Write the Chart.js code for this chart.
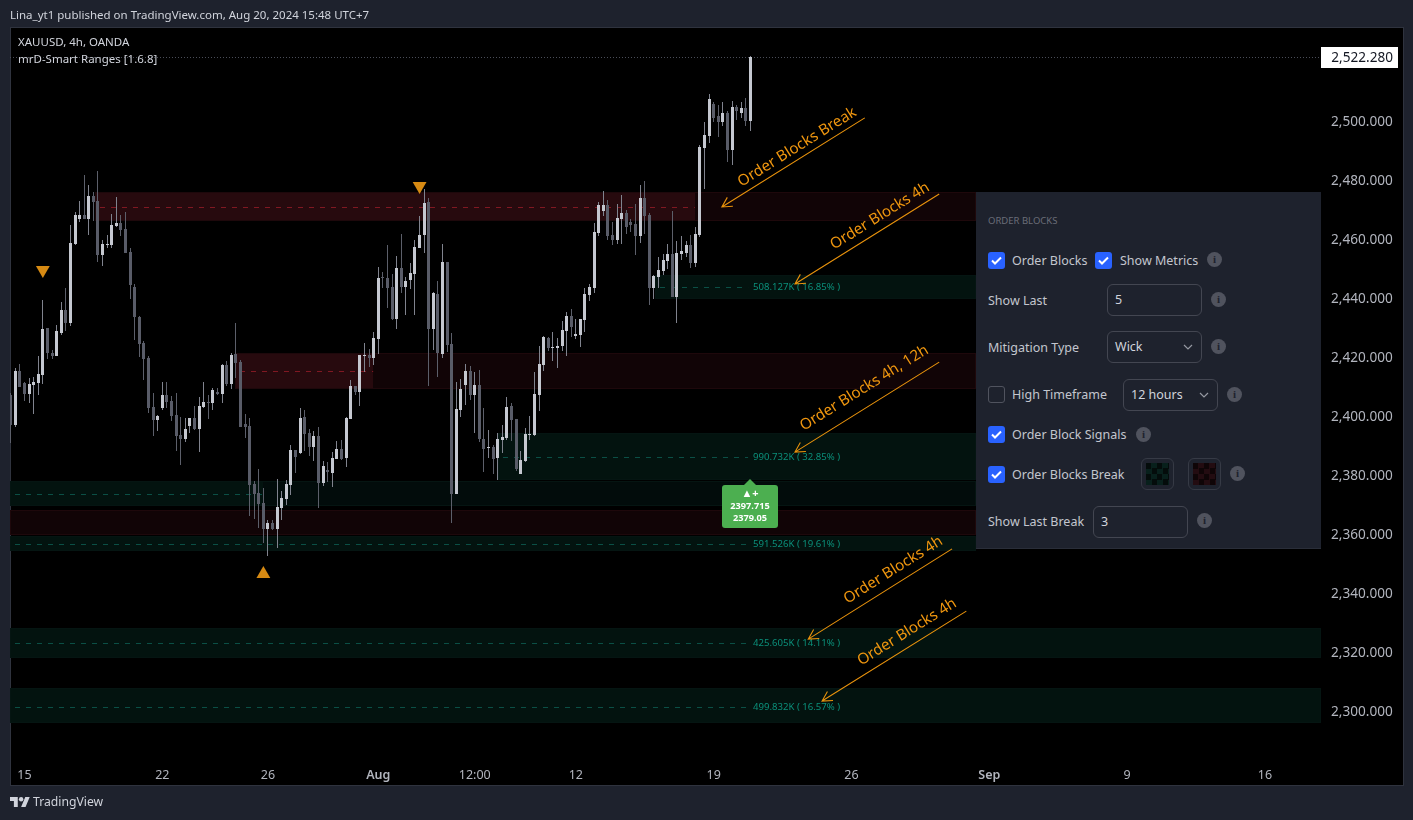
<!DOCTYPE html>
<html>
<head>
<meta charset="utf-8">
<title>XAUUSD, 4h, OANDA</title>
<script src="https://cdn.jsdelivr.net/npm/chart.js@4"></script>
<style>
    html, body { margin: 0; padding: 0; background: #1e222d; overflow: hidden; }
    body { width: 1413px; height: 820px; position: relative; font-family: "Noto Sans", sans-serif; color: #d1d4dc; }
    .abs { position: absolute; white-space: nowrap; }
    #plotBg { position: absolute; left: 10px; top: 27px; width: 1392px; height: 757px; background: #000; border: 1px solid #2f333e; }
    #chart { position: absolute; left: 0; top: 0; }
    #panel { position: absolute; left: 976px; top: 192px; width: 345px; height: 357px; background: #1e222d; border-bottom: 1px solid #2a2e39; box-sizing: border-box; }
    .txt { position: absolute; font-size: 12.5px; line-height: 16px; color: #c3c6ce; white-space: nowrap; }
    .cb { position: absolute; width: 17px; height: 17px; border-radius: 3px; background: #2962ff; box-sizing: border-box; }
    .cb svg { position: absolute; left: 3px; top: 4px; }
    .cb.off { background: none; border: 1px solid #50535e; }
    .field { position: absolute; height: 32px; border: 1px solid #434651; border-radius: 6px; box-sizing: border-box; font-size: 12.5px; line-height: 30px; color: #d1d4dc; padding-left: 7px; }
    .field svg { position: absolute; top: 12px; }
    .info { position: absolute; width: 15px; height: 15px; border-radius: 50%; background: #50535e; color: #1e222d; font-size: 11px; font-weight: 700; line-height: 15px; text-align: center; font-family: "Liberation Serif", serif; }
    .swatch { position: absolute; width: 33px; height: 32px; border: 1px solid #363a45; border-radius: 6px; box-sizing: border-box; }
    .swatch i { position: absolute; left: 4px; top: 4px; width: 23px; height: 22px; background-size: 11px 11px; }
</style>
</head>
<body>
<div id="plotBg"></div>
<canvas id="chart" width="1413" height="820"></canvas>

<div class="abs" style="left:10px;top:7px;font-size:11.5px;line-height:16px;">Lina_yt1 published on TradingView.com, Aug 20, 2024 15:48 UTC+7</div>
<div class="abs" style="left:18px;top:34px;font-size:11.5px;line-height:16px;">XAUUSD, 4h, OANDA</div>
<div class="abs" style="left:18px;top:51px;font-size:11.5px;line-height:16px;">mrD-Smart Ranges [1.6.8]</div>

<svg class="abs" style="left:10px;top:797px;" width="20" height="10" viewBox="0 4 36 18"><path fill="#d1d4dc" d="M14 22H7V11H0V4h14v18zM28 22h-8l7.5-18h8L28 22z"/><circle fill="#d1d4dc" cx="20" cy="8" r="4"/></svg>
<div class="abs" style="left:33px;top:794px;font-size:12.2px;line-height:16px;">TradingView</div>

<div id="panel">
    <div class="txt" style="left:12px;top:21px;font-size:9.5px;color:#6a6d78;">ORDER BLOCKS</div>

    <div class="cb" style="left:12px;top:60px;"><svg width="11" height="9" viewBox="0 0 11 9"><path d="M1 4.5 4 7.5 10 1.5" fill="none" stroke="#fff" stroke-width="2"/></svg></div>
    <div class="txt" style="left:36px;top:61px;">Order Blocks</div>
    <div class="cb" style="left:119px;top:60px;"><svg width="11" height="9" viewBox="0 0 11 9"><path d="M1 4.5 4 7.5 10 1.5" fill="none" stroke="#fff" stroke-width="2"/></svg></div>
    <div class="txt" style="left:144px;top:61px;">Show Metrics</div>
    <div class="info" style="left:231px;top:60px;">i</div>

    <div class="txt" style="left:12px;top:101px;">Show Last</div>
    <div class="field" style="left:131px;top:92px;width:95px;">5</div>
    <div class="info" style="left:235px;top:100px;">i</div>

    <div class="txt" style="left:12px;top:148px;">Mitigation Type</div>
    <div class="field" style="left:131px;top:139px;width:95px;">Wick<svg style="left:75px;" width="10" height="6" viewBox="0 0 10 6"><path d="M1 1 5 5 9 1" fill="none" stroke="#9598a1" stroke-width="1.2"/></svg></div>
    <div class="info" style="left:235px;top:147px;">i</div>

    <div class="cb off" style="left:12px;top:194px;"></div>
    <div class="txt" style="left:36px;top:195px;">High Timeframe</div>
    <div class="field" style="left:147px;top:187px;width:95px;">12 hours<svg style="left:75px;" width="10" height="6" viewBox="0 0 10 6"><path d="M1 1 5 5 9 1" fill="none" stroke="#9598a1" stroke-width="1.2"/></svg></div>
    <div class="info" style="left:251px;top:195px;">i</div>

    <div class="cb" style="left:12px;top:234px;"><svg width="11" height="9" viewBox="0 0 11 9"><path d="M1 4.5 4 7.5 10 1.5" fill="none" stroke="#fff" stroke-width="2"/></svg></div>
    <div class="txt" style="left:36px;top:235px;">Order Block Signals</div>
    <div class="info" style="left:160px;top:235px;">i</div>

    <div class="cb" style="left:12px;top:274px;"><svg width="11" height="9" viewBox="0 0 11 9"><path d="M1 4.5 4 7.5 10 1.5" fill="none" stroke="#fff" stroke-width="2"/></svg></div>
    <div class="txt" style="left:36px;top:275px;">Order Blocks Break</div>
    <div class="swatch" style="left:165px;top:266px;"><i style="background-image:repeating-conic-gradient(#08201c 0 25%,#040c0b 0 50%);"></i></div>
    <div class="swatch" style="left:212px;top:266px;"><i style="background-image:repeating-conic-gradient(#230c11 0 25%,#0f0507 0 50%);"></i></div>
    <div class="info" style="left:254px;top:274px;">i</div>

    <div class="txt" style="left:12px;top:322px;">Show Last Break</div>
    <div class="field" style="left:117px;top:314px;width:95px;">3</div>
    <div class="info" style="left:221px;top:321px;">i</div>
</div>

<script>
// 1. Candle values (one entry per 4h bar)
const opens = [
    2407.5,2397.3,2415.6,2411.5,2407.8,2410.8,2411.5,2414.2,2430.2,2421.7,
    2420.7,2428.5,2436.3,2431.9,2458.6,2467.1,2468.5,2467.1,2474.9,2473.2,
    2454.9,2458.3,2458.3,2464.7,2465.8,2463.7,2455.9,2444.0,2433.9,2425.1,
    2420.0,2403.4,2399.0,2403.0,2407.5,2405.4,2400.7,2393.9,2392.5,2396.9,
    2399.7,2395.9,2403.4,2405.1,2404.7,2408.5,2407.8,2417.6,2411.2,2421.4,
    2418.6,2397.6,2396.9,2377.3,2374.2,2370.8,2362.0,2364.1,2362.0,2369.1,
    2372.2,2376.9,2388.8,2387.8,2400.0,2394.6,2389.8,2393.5,2377.6,2382.0,
    2381.0,2385.8,2389.1,2386.1,2399.3,2410.5,2408.5,2420.7,2421.0,2420.0,
    2426.4,2447.5,2447.1,2444.1,2433.2,2450.5,2444.1,2446.4,2448.5,2457.3,
    2461.7,2472.9,2429.8,2441.7,2421.3,2452.5,2424.7,2373.9,2402.4,2410.8,
    2415.6,2407.5,2410.8,2392.5,2389.5,2389.8,2386.1,2392.2,2392.9,2403.7,
    2399.3,2380.7,2385.1,2393.9,2393.9,2407.5,2417.6,2426.8,2423.4,2423.4,
    2424.1,2429.1,2434.2,2427.4,2427.8,2432.9,2441.3,2443.7,2462.4,2469.8,
    2471.9,2461.7,2460.0,2467.1,2469.1,2466.1,2465.4,2461.3,2474.2,2468.5,
    2443.7,2447.5,2449.5,2452.9,2455.2,2440.7,2455.2,2455.6,2458.3,2452.2,
    2461.7,2491.2,2495.3,2506.1,2502.0,2500.0,2503.0,2490.5,2505.1,2503.0,
    2504.7,2500.3
];
const closes = [
    2397.3,2415.6,2410.3,2407.8,2411.2,2411.9,2414.6,2429.8,2421.7,2420.7,
    2429.1,2436.3,2431.9,2459.0,2468.5,2468.5,2467.1,2474.9,2472.9,2454.9,
    2458.6,2458.6,2465.1,2465.8,2463.4,2455.6,2444.7,2433.9,2424.7,2419.7,
    2403.0,2399.0,2400.3,2407.5,2405.1,2400.3,2393.6,2392.5,2395.9,2399.7,
    2395.9,2403.7,2405.1,2404.7,2409.1,2407.8,2417.6,2411.2,2421.0,2418.3,
    2396.6,2396.6,2376.9,2373.9,2370.5,2362.0,2364.1,2362.0,2369.5,2372.5,
    2377.3,2388.8,2386.4,2399.7,2394.2,2389.8,2393.5,2377.6,2383.4,2381.4,
    2386.1,2389.1,2385.8,2399.7,2410.5,2408.5,2421.0,2421.0,2420.0,2426.8,
    2447.1,2447.1,2443.7,2433.2,2450.5,2444.1,2446.1,2448.8,2457.6,2461.7,
    2472.5,2429.8,2442.0,2421.7,2452.5,2424.4,2373.9,2402.7,2409.5,2415.6,
    2407.5,2410.8,2392.5,2389.1,2389.8,2385.8,2392.5,2393.2,2403.4,2399.0,
    2382.4,2385.4,2394.2,2394.2,2407.8,2418.0,2427.1,2423.4,2423.7,2424.1,
    2429.5,2434.2,2430.5,2428.1,2433.2,2441.7,2444.1,2462.7,2471.9,2471.9,
    2461.3,2460.0,2467.4,2469.1,2464.4,2465.1,2461.3,2474.2,2468.1,2443.7,
    2447.8,2449.8,2453.2,2455.2,2440.7,2455.6,2456.3,2458.3,2452.2,2462.0,
    2491.5,2495.6,2507.8,2501.3,2500.0,2503.0,2490.5,2505.1,2503.7,2504.7,
    2500.3,2522.0
];
const highs = [
    2408.0,2416.5,2418.0,2412.0,2413.2,2413.6,2420.7,2439.7,2430.2,2422.7,
    2431.2,2439.0,2443.7,2465.1,2469.5,2473.2,2482.0,2478.6,2476.3,2483.4,
    2460.0,2461.7,2468.8,2474.6,2468.5,2469.5,2457.3,2445.1,2434.2,2425.8,
    2420.7,2408.1,2400.7,2411.9,2411.9,2407.1,2408.1,2400.0,2399.7,2399.7,
    2403.7,2406.8,2411.9,2407.5,2409.8,2409.8,2417.9,2419.0,2421.7,2431.9,
    2419.3,2401.0,2399.7,2378.3,2382.4,2375.9,2365.1,2365.1,2379.0,2374.9,
    2378.6,2390.5,2388.8,2403.0,2402.4,2395.9,2395.2,2396.6,2385.1,2384.7,
    2388.1,2391.9,2392.2,2400.0,2412.5,2410.5,2421.0,2425.1,2423.0,2428.8,
    2450.8,2449.1,2458.3,2448.5,2454.6,2462.0,2447.5,2452.2,2460.0,2468.1,
    2477.3,2474.2,2442.4,2446.1,2458.6,2452.5,2428.5,2411.9,2412.9,2418.0,
    2417.3,2415.2,2415.9,2403.0,2395.6,2390.5,2394.6,2397.3,2406.8,2404.8,
    2399.3,2388.5,2396.3,2400.3,2415.3,2424.1,2427.5,2427.1,2428.8,2426.8,
    2432.5,2435.6,2436.6,2433.2,2433.2,2443.7,2445.1,2465.8,2472.9,2476.6,
    2473.6,2466.1,2472.2,2475.2,2470.2,2467.1,2472.2,2478.6,2480.0,2469.1,
    2448.1,2454.2,2455.2,2458.6,2469.8,2459.7,2461.3,2459.7,2461.7,2464.4,
    2492.2,2500.0,2509.5,2506.8,2505.8,2506.8,2503.7,2507.1,2505.8,2506.8,
    2508.1,2522.3
];
const lows = [
    2391.1,2396.7,2410.3,2405.5,2404.9,2401.0,2407.5,2411.2,2419.6,2419.6,
    2420.7,2427.8,2429.1,2430.9,2458.3,2466.1,2467.1,2461.7,2466.4,2452.5,
    2451.2,2457.3,2457.3,2464.4,2461.4,2455.6,2440.0,2426.1,2420.3,2412.5,
    2401.4,2393.6,2395.3,2402.4,2403.0,2398.6,2388.5,2383.7,2391.5,2394.6,
    2395.6,2388.1,2403.0,2399.3,2402.4,2407.5,2404.7,2410.5,2409.5,2413.2,
    2396.6,2392.9,2366.4,2365.4,2362.4,2357.3,2352.9,2361.7,2355.6,2365.1,
    2370.2,2373.5,2381.0,2387.5,2388.5,2386.8,2385.1,2369.1,2376.6,2378.0,
    2376.3,2385.8,2385.4,2383.0,2399.3,2407.5,2403.7,2415.3,2416.9,2417.6,
    2421.3,2443.7,2436.9,2432.9,2429.8,2442.0,2434.6,2443.4,2434.6,2457.3,
    2455.6,2410.5,2422.7,2413.6,2420.0,2422.0,2364.1,2373.9,2400.0,2404.1,
    2405.8,2394.6,2391.5,2381.4,2386.1,2380.7,2378.6,2387.8,2392.2,2391.9,
    2381.7,2380.7,2384.7,2392.2,2393.6,2402.0,2415.6,2422.4,2419.0,2416.6,
    2422.4,2420.7,2427.1,2426.4,2423.7,2428.8,2439.3,2442.0,2461.3,2468.1,
    2460.0,2458.3,2458.6,2458.6,2462.0,2462.7,2454.9,2459.0,2462.0,2438.0,
    2440.0,2443.7,2448.1,2450.2,2440.7,2431.9,2453.2,2454.2,2450.5,2450.8,
    2461.0,2477.3,2492.9,2500.0,2494.9,2498.6,2486.4,2485.4,2500.7,2501.4,
    2498.6,2496.9
];

// Axis ticks
const xTickBars = [3, 33, 56, 80, 101, 123, 153, 183, 213, 243, 273];
const xTickLabels = ['15', '22', '26', 'Aug', '12:00', '12', '19', '26', 'Sep', '9', '16'];
const yTicks = [2500, 2480, 2460, 2440, 2420, 2400, 2380, 2360, 2340, 2320, 2300];

// Order block zones: bar where each starts, where the dashed mid line / strong fill stops, price range
const zoneKinds = ['bear', 'bear', 'bull', 'bull', 'bull', 'bear', 'bull', 'bull', 'bull'];
const zoneStarts = [18.4, 48.8, 140.3, 106.1, -0.2, -0.2, -0.2, -0.2, -0.2];
const zoneFades = [148.9, 78.9, 210.1, 210.1, 54.9, -0.2, 210.1, 285.2, 285.2];
const zoneEnds = [210.1, 210.1, 210.1, 210.1, 210.1, 210.1, 210.1, 285.2, 285.2];
const zoneTops = [2476.3, 2421.7, 2448.1, 2394.6, 2378.3, 2368.5, 2359.7, 2328.5, 2308.1];
const zoneBottoms = [2466.4, 2409.5, 2440.0, 2378.6, 2369.8, 2360.0, 2354.6, 2318.3, 2296.3];
const zoneMids = [2471.1, 2415.5, 2444.0, 2386.3, 2373.8, null, 2356.9, 2323.4, 2301.7];
const zoneDashEnds = [148.9, 78.9, 160.5, 160.5, 54.9, null, 160.5, 160.5, 160.5];
const zoneMetrics = [null, null, '508.127K ( 16.85% )', '990.732K ( 32.85% )', null, null, '591.526K ( 19.61% )', '425.605K ( 14.11% )', '499.832K ( 16.57% )'];

// Orange pointers
const noteTexts = ['Order Blocks Break', 'Order Blocks 4h', 'Order Blocks 4h, 12h', 'Order Blocks 4h', 'Order Blocks 4h'];
const noteBars = [171.2, 189.2, 185.8, 192.1, 195.1];
const notePrices = [2491.5, 2468.1, 2409.8, 2348.1, 2327.1];
const arrowFromBars = [185.9, 202.1, 202.1, 204.9, 208.0];
const arrowFromPrices = [2501.4, 2475.6, 2418.6, 2355.3, 2334.2];
const arrowToBars = [154.8, 170.7, 170.7, 173.6, 176.6];
const arrowToPrices = [2471.2, 2445.1, 2388.1, 2324.7, 2303.7];

// Swing markers
const markerBars = [7, 89, 55];
const markerPrices = [2449.8, 2478.3, 2346.8];
const markerRotations = [180, 180, 0];

// Green signal label
const signalBar = 160.9;
const signalPrice = 2378.9;
const signalLines = ['▲+', '2397.715', '2379.05'];
const lastPriceText = '2,522.280';

const UI_FONT = '"Noto Sans", sans-serif';
const UP_COLOR = '#c5c8d0';
const DOWN_COLOR = '#595c68';
const WICK_UP = '#80838e';
const WICK_DOWN = '#5c5f6a';

document.addEventListener('DOMContentLoaded', () => {
    const isUp = opens.map((o, i) => closes[i] >= o);
    const wickBars = opens.map((o, i) => ({ x: i, y: [lows[i], highs[i]] }));
    const bodyBars = opens.map((o, i) => ({ x: i, y: [o, closes[i]] }));

    // 2. Snap bars on whole pixels so the candles stay sharp
    const snapBars = {
        id: 'snapBars',
        beforeDatasetsDraw(chart) {
            chart.getSortedVisibleDatasetMetas().forEach((meta) => {
                if (meta.type !== 'bar') return;
                meta.data.forEach((el) => {
                    el.x = Math.floor(el.x) + 0.5;
                    el.y = Math.round(el.y);
                    el.base = Math.round(el.base);
                    if (el.y === el.base) el.base = el.y + 1;
                });
            });
        }
    };

    // 3. Zones behind the candles, dotted last price line
    const zonesPlugin = {
        id: 'zones',
        beforeDatasetsDraw(chart) {
            const { ctx, chartArea: area, scales: { x, y } } = chart;
            ctx.save();
            ctx.beginPath();
            ctx.rect(area.left, area.top, area.width, area.height);
            ctx.clip();
            zoneKinds.forEach((kind, i) => {
                const bear = kind === 'bear';
                const top = Math.round(y.getPixelForValue(zoneTops[i]));
                const bottom = Math.round(y.getPixelForValue(zoneBottoms[i]));
                const left = Math.round(x.getPixelForValue(zoneStarts[i]));
                const fade = Math.round(x.getPixelForValue(zoneFades[i]));
                const right = Math.round(x.getPixelForValue(zoneEnds[i]));
                ctx.fillStyle = bear ? '#110406' : '#020c0b';
                ctx.fillRect(fade, top, right - fade, bottom - top);
                ctx.fillStyle = bear ? '#270a0e' : '#03130f';
                ctx.fillRect(left, top, fade - left, bottom - top);
                ctx.strokeStyle = bear ? '#1e080b' : '#051512';
                ctx.lineWidth = 1;
                ctx.strokeRect(left + 0.5, top + 0.5, right - left - 1, bottom - top - 1);
                if (zoneMids[i] !== null) {
                    const my = Math.round(y.getPixelForValue(zoneMids[i])) + 0.5;
                    ctx.strokeStyle = bear ? '#801822' : '#0b4f45';
                    ctx.setLineDash([5, 6]);
                    ctx.beginPath();
                    ctx.moveTo(left + 5, my);
                    ctx.lineTo(x.getPixelForValue(zoneDashEnds[i]), my);
                    ctx.stroke();
                    ctx.setLineDash([]);
                }
                if (zoneMetrics[i]) {
                    ctx.fillStyle = '#0b8f7a';
                    ctx.font = '9.6px ' + UI_FONT;
                    ctx.textAlign = 'left';
                    ctx.textBaseline = 'middle';
                    ctx.fillText(zoneMetrics[i], 753, y.getPixelForValue(zoneMids[i]));
                }
            });
            const lastY = Math.round(y.getPixelForValue(closes[closes.length - 1])) + 0.5;
            ctx.strokeStyle = '#4a4d58';
            ctx.setLineDash([1, 2]);
            ctx.beginPath();
            ctx.moveTo(area.left, lastY);
            ctx.lineTo(area.right, lastY);
            ctx.stroke();
            ctx.restore();
        }
    };

    // 4. Orange notes, signal label and price tag on top
    const overlayPlugin = {
        id: 'overlay',
        afterDatasetsDraw(chart) {
            const { ctx, scales: { x, y } } = chart;
            ctx.save();
            noteTexts.forEach((text, i) => {
                const x1 = x.getPixelForValue(arrowFromBars[i]);
                const y1 = y.getPixelForValue(arrowFromPrices[i]);
                const x2 = x.getPixelForValue(arrowToBars[i]);
                const y2 = y.getPixelForValue(arrowToPrices[i]);
                const angle = Math.atan2(y2 - y1, x2 - x1);
                ctx.strokeStyle = '#e8920c';
                ctx.lineWidth = 1.1;
                ctx.beginPath();
                ctx.moveTo(x1, y1);
                ctx.lineTo(x2, y2);
                ctx.moveTo(x2 - 11 * Math.cos(angle - 0.5), y2 - 11 * Math.sin(angle - 0.5));
                ctx.lineTo(x2, y2);
                ctx.lineTo(x2 - 11 * Math.cos(angle + 0.5), y2 - 11 * Math.sin(angle + 0.5));
                ctx.stroke();

                ctx.save();
                ctx.translate(x.getPixelForValue(noteBars[i]), y.getPixelForValue(notePrices[i]));
                ctx.rotate(angle - Math.PI);
                ctx.fillStyle = '#ef960f';
                ctx.font = '15.2px ' + UI_FONT;
                ctx.textAlign = 'center';
                ctx.textBaseline = 'middle';
                ctx.fillText(text, 0, 0);
                ctx.restore();
            });

            // Green box
            const cx = Math.round(x.getPixelForValue(signalBar));
            const tip = Math.round(y.getPixelForValue(signalPrice));
            ctx.fillStyle = '#4caf50';
            ctx.beginPath();
            ctx.moveTo(cx, tip);
            ctx.lineTo(cx + 6, tip + 6);
            ctx.lineTo(cx - 6, tip + 6);
            ctx.fill();
            ctx.beginPath();
            ctx.roundRect(cx - 28, tip + 6, 56, 43, 3);
            ctx.fill();
            ctx.fillStyle = '#fff';
            ctx.textAlign = 'center';
            ctx.textBaseline = 'middle';
            signalLines.forEach((line, i) => {
                ctx.font = (i === 0 ? '700 11px ' : '700 9.2px ') + UI_FONT;
                ctx.fillText(line, cx, tip + 15 + i * 12);
            });

            // Price tag
            const tagY = Math.round(y.getPixelForValue(closes[closes.length - 1]));
            ctx.fillStyle = '#fff';
            ctx.fillRect(1321, tagY - 10, 77, 21);
            ctx.fillStyle = '#131722';
            ctx.font = '13.6px ' + UI_FONT;
            ctx.textAlign = 'right';
            ctx.fillText(lastPriceText, 1393, tagY + 1);
            ctx.restore();
        }
    };

    // 5. Chart: wicks and bodies as floating bars, markers as points
    new Chart(document.getElementById('chart'), {
        type: 'bar',
        data: {
            datasets: [
                {
                    data: wickBars,
                    backgroundColor: isUp.map((u) => (u ? WICK_UP : WICK_DOWN)),
                    barThickness: 1,
                    grouped: false,
                    inflateAmount: 0,
                    order: 2
                },
                {
                    data: bodyBars,
                    backgroundColor: isUp.map((u) => (u ? UP_COLOR : DOWN_COLOR)),
                    barThickness: 3,
                    grouped: false,
                    inflateAmount: 0,
                    order: 1
                },
                {
                    type: 'scatter',
                    data: markerBars.map((b, i) => ({ x: b, y: markerPrices[i] })),
                    pointStyle: 'triangle',
                    pointRadius: 8,
                    pointRotation: markerRotations,
                    backgroundColor: '#d68a13',
                    borderWidth: 0,
                    order: 0
                }
            ]
        },
        options: {
            responsive: false,
            animation: false,
            events: [],
            layout: { padding: { left: 10, top: 28, right: 12, bottom: 35 } },
            plugins: { legend: { display: false }, tooltip: { enabled: false } },
            scales: {
                x: {
                    type: 'linear',
                    offset: false,
                    min: -0.15,
                    max: 285.2,
                    grid: { display: false },
                    border: { display: false },
                    afterFit: (scale) => { scale.height = 33; },
                    afterBuildTicks: (scale) => { scale.ticks = xTickBars.map((v) => ({ value: v })); },
                    ticks: {
                        color: '#b2b5be',
                        autoSkip: false,
                        maxRotation: 0,
                        padding: 8,
                        font: (c) => ({
                            family: UI_FONT,
                            size: 12.5,
                            weight: ['Aug', 'Sep'].includes(xTickLabels[c.index]) ? '600' : '400'
                        }),
                        callback: (v) => xTickLabels[xTickBars.indexOf(v)]
                    }
                },
                y: {
                    position: 'right',
                    min: 2286.44,
                    max: 2531.86,
                    grid: { display: false },
                    border: { display: false },
                    afterFit: (scale) => { scale.width = 80; },
                    afterBuildTicks: (scale) => { scale.ticks = yTicks.map((v) => ({ value: v })); },
                    ticks: {
                        color: '#b2b5be',
                        padding: 2,
                        font: { family: UI_FONT, size: 13.6 },
                        callback: (v) => v.toLocaleString('en-US', { minimumFractionDigits: 3 })
                    }
                }
            }
        },
        plugins: [snapBars, zonesPlugin, overlayPlugin]
    });
});
</script>
</body>
</html>
